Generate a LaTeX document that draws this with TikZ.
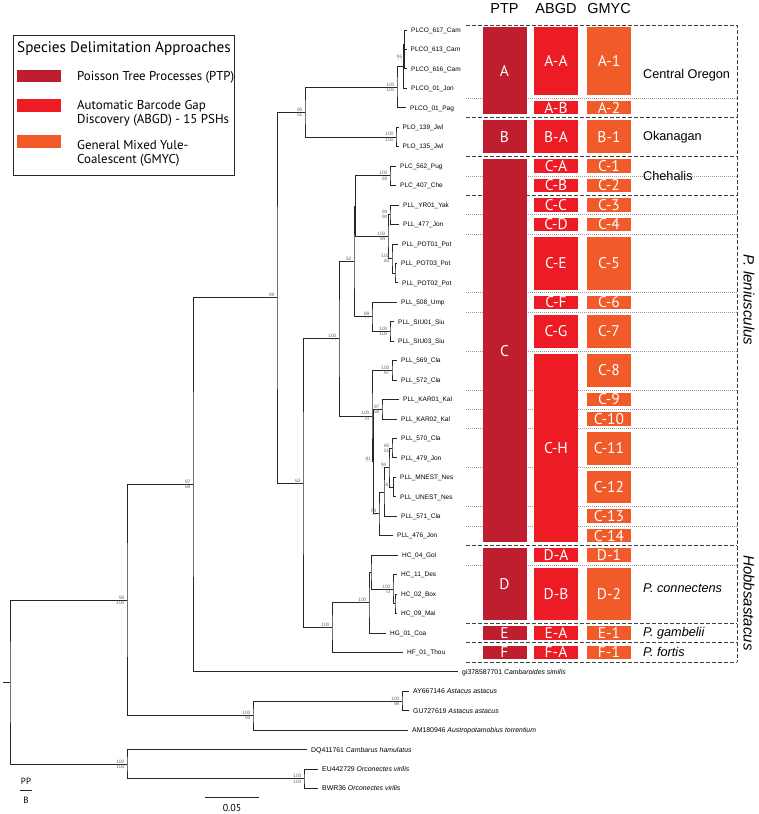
\documentclass[tikz,border=0pt]{standalone}
\usepackage{fontspec}
\setmainfont{Liberation Sans}
\newfontfamily\ptsans{PT Sans}
\usetikzlibrary{calc}
\definecolor{ptpc}{HTML}{BE1E2D}
\definecolor{abgdc}{HTML}{ED1C24}
\definecolor{gmycc}{HTML}{F15A29}
\def\ty#1{{10.5+19.45*(#1)}}
\newcommand{\bsup}[3]{%
  \node[slab,anchor=south east] (#1-t) at ([xshift=-2.2pt,yshift=0.5pt]#1) {#2};
  \node[slab,anchor=north east] (#1-b) at ([xshift=-2.2pt,yshift=-0.5pt]#1) {#3};}
\newcommand{\gb}[6]{%
  \pgfmathsetmacro{\gbt}{max(10.5+19.45*(#3-0.5)+3,27)}%
  \pgfmathsetmacro{\gbb}{10.5+19.45*(#4+0.5)-3}%
  \pgfmathsetmacro{\gbm}{(\gbt+\gbb)/2}%
  \fill[#5] ({#2-22},\gbt) rectangle ({#2+22},\gbb);
  \node[gtext] (#1) at (#2,\gbm) {#6};}
\tikzset{
  br/.style={draw=black!85, line width=0.75pt},
  tip/.style={anchor=base west, inner sep=0, font=\fontsize{6.5}{7}\selectfont},
  otip/.style={anchor=base west, inner sep=0, font=\fontsize{6.9}{7}\selectfont},
  slab/.style={inner sep=0.2pt, text=black!60, font=\fontsize{4.8}{5}\selectfont},
  gtext/.style={inner sep=0, text=white, font=\ptsans\fontsize{15.5}{16}\selectfont},
  dsh/.style={draw=black!75, line width=0.9pt, dash pattern=on 3.5pt off 2.5pt},
  dotl/.style={draw=black!40, line width=0.5pt, dash pattern=on 1pt off 1pt},
  hdr/.style={inner sep=0, font=\fontsize{14.5}{15}\selectfont},
  grp/.style={anchor=west, inner sep=0, font=\fontsize{12.7}{13}\selectfont},
  leg/.style={anchor=base west, inner sep=0, font=\ptsans\fontsize{12.9}{13}\selectfont},
}
\begin{document}
\begin{tikzpicture}[x=1pt,y=-1pt]
\useasboundingbox (0,0) rectangle (758,814);

% ---------- dotted and dashed group lines ----------
\foreach \k in {4.5,8.5,10.5,11.5,14.5,15.5,17.5,19.5,20.5,21.5,23.5,25.5,26.5,28.5}
  \draw[dotl] (466,\ty{\k}) -- (737,\ty{\k});
\foreach \k in {5.5,7.5,9.5,27.5,31.5,32.5,33.5}
  \draw[dsh] (466,\ty{\k}) -- (737,\ty{\k});
\draw[dsh] (466,25) -- (737,25) -- (737,\ty{33.5});

% ---------- boxes ----------
\gb{pA}{504.5}{1}{5}{ptpc}{A}
\gb{pB}{504.5}{6}{7}{ptpc}{B}
\gb{pC}{504.5}{8}{27}{ptpc}{C}
\gb{pD}{504.5}{28}{31}{ptpc}{D}
\gb{pE}{504.5}{32}{32}{ptpc}{E}
\gb{pF}{504.5}{33}{33}{ptpc}{F}

\gb{aAA}{556}{1}{4}{abgdc}{A-A}
\gb{aAB}{556}{5}{5}{abgdc}{A-B}
\gb{aBA}{556}{6}{7}{abgdc}{B-A}
\gb{aCA}{556}{8}{8}{abgdc}{C-A}
\gb{aCB}{556}{9}{9}{abgdc}{C-B}
\gb{aCC}{556}{10}{10}{abgdc}{C-C}
\gb{aCD}{556}{11}{11}{abgdc}{C-D}
\gb{aCE}{556}{12}{14}{abgdc}{C-E}
\gb{aCF}{556}{15}{15}{abgdc}{C-F}
\gb{aCG}{556}{16}{17}{abgdc}{C-G}
\gb{aCH}{556}{18}{27}{abgdc}{C-H}
\gb{aDA}{556}{28}{28}{abgdc}{D-A}
\gb{aDB}{556}{29}{31}{abgdc}{D-B}
\gb{aEA}{556}{32}{32}{abgdc}{E-A}
\gb{aFA}{556}{33}{33}{abgdc}{F-A}

\gb{gA1}{609}{1}{4}{gmycc}{A-1}
\gb{gA2}{609}{5}{5}{gmycc}{A-2}
\gb{gB1}{609}{6}{7}{gmycc}{B-1}
\gb{gC1}{609}{8}{8}{gmycc}{C-1}
\gb{gC2}{609}{9}{9}{gmycc}{C-2}
\gb{gC3}{609}{10}{10}{gmycc}{C-3}
\gb{gC4}{609}{11}{11}{gmycc}{C-4}
\gb{gC5}{609}{12}{14}{gmycc}{C-5}
\gb{gC6}{609}{15}{15}{gmycc}{C-6}
\gb{gC7}{609}{16}{17}{gmycc}{C-7}
\gb{gC8}{609}{18}{19}{gmycc}{C-8}
\gb{gC9}{609}{20}{20}{gmycc}{C-9}
\gb{gC10}{609}{21}{21}{gmycc}{C-10}
\gb{gC11}{609}{22}{23}{gmycc}{C-11}
\gb{gC12}{609}{24}{25}{gmycc}{C-12}
\gb{gC13}{609}{26}{26}{gmycc}{C-13}
\gb{gC14}{609}{27}{27}{gmycc}{C-14}
\gb{gD1}{609}{28}{28}{gmycc}{D-1}
\gb{gD2}{609}{29}{31}{gmycc}{D-2}
\gb{gE1}{609}{32}{32}{gmycc}{E-1}
\gb{gF1}{609}{33}{33}{gmycc}{F-1}

% ---------- headers and group names ----------
\node[hdr] (hPTP) at (504.5,9) {PTP};
\node[hdr] (hABGD) at (556,9) {ABGD};
\node[hdr] (hGMYC) at (609,9) {GMYC};
\node[grp] (gCO) at (643,75) {Central Oregon};
\node[grp] (gOK) at (643,\ty{6.5}) {Okanagan};
\node[grp] (gCH) at (643,\ty{8.5}) {Chehalis};
\node[grp,font=\itshape\fontsize{12.7}{13}\selectfont] (gPC) at (643,588) {P. connectens};
\node[grp,font=\itshape\fontsize{12.7}{13}\selectfont] (gPG) at (643,\ty{32}) {P. gambelii};
\node[grp,font=\itshape\fontsize{12.7}{13}\selectfont] (gPF) at (643,\ty{33}) {P. fortis};
\node[inner sep=0,rotate=-90,font=\itshape\fontsize{15}{15}\selectfont] (gPL) at (749,300) {P. leniusculus};
\node[inner sep=0,rotate=-90,font=\itshape\fontsize{15}{15}\selectfont] (gHO) at (749,603) {Hobbsastacus};

% ---------- tips ----------
\foreach \i/\ex/\lab in {
 1/407/PLCO\_617\_Cam, 2/406.5/PLCO\_613\_Cam, 3/407/PLCO\_616\_Cam, 4/407/PLCO\_01\_Jon,
 5/406/PLCO\_01\_Pag, 6/398.5/PLO\_139\_Jwl, 7/398.5/PLO\_135\_Jwl, 8/396/PLC\_562\_Pug,
 9/396/PLC\_407\_Che, 10/399/PLL\_YR01\_Yak, 11/399/PLL\_477\_Jon, 12/398/PLL\_POT01\_Pot,
 13/397/PLL\_POT03\_Pot, 14/398/PLL\_POT02\_Pot, 15/397/PLL\_508\_Ump, 16/394/PLL\_SIU01\_Siu,
 17/394/PLL\_SIU03\_Siu, 18/397/PLL\_569\_Cla, 19/397/PLL\_572\_Cla, 20/399/PLL\_KAR01\_Kal,
 21/397/PLL\_KAR02\_Kal, 22/397/PLL\_570\_Cla, 23/397/PLL\_479\_Jon, 24/396/PLL\_MNEST\_Nes,
 25/396/PLL\_UNEST\_Nes, 26/397/PLL\_571\_Cla, 27/393/PLL\_476\_Jon, 28/398/HC\_04\_Gol,
 29/397/HC\_11\_Des, 30/397/HC\_02\_Box, 31/397/HC\_09\_Mai, 32/386/HG\_01\_Coa,
 33/403/HF\_01\_Thou}{
  \coordinate (e\i) at (\ex,\ty{\i});
  \node[tip] (t\i) at ([xshift=4pt,yshift=-2.3pt]e\i) {\lab};
}
\foreach \i/\ex/\lab in {
 34/458/gi378587701 \textit{Cambaroides similis},
 35/409/AY667146 \textit{Astacus astacus}, 36/409/GU727619 \textit{Astacus astacus},
 37/408/AM180946 \textit{Austropotamobius torrentium}, 38/307/DQ411761 \textit{Cambarus hamulatus},
 39/318/EU442729 \textit{Orconectes virilis}, 40/318/BWR36 \textit{Orconectes virilis}}{
  \coordinate (e\i) at (\ex,\ty{\i});
  \node[otip] (t\i) at ([xshift=4pt,yshift=-2.4pt]e\i) {\lab};
}

% ---------- internal nodes ----------
\coordinate (rstub) at (3,\ty{34.532});
\coordinate (root) at (10,\ty{34.532});
\coordinate (N95) at (127,\ty{30.3145});
\coordinate (Ncamb) at (127,\ty{38.75});
\coordinate (Orco) at (304,\ty{39.5});
\coordinate (Nast) at (253,\ty{36.25});
\coordinate (AYGU) at (402,\ty{35.5});
\coordinate (N97) at (193,\ty{24.3789});
\coordinate (N99) at (277,\ty{14.7578});
\coordinate (N90) at (305,\ty{5.21875});
\coordinate (X) at (397,\ty{3.9375});
\coordinate (Y) at (403.5,\ty{2.875});
\coordinate (Z) at (404.2,\ty{1.75});
\coordinate (W) at (404.8,\ty{2.5});
\coordinate (PLO) at (396,\ty{6.5});
\coordinate (N63) at (303,\ty{24.296875});
\coordinate (N100a) at (339,\ty{16.875});
\coordinate (N52) at (354,\ty{12.90625});
\coordinate (Q) at (355.5,\ty{10.0625});
\coordinate (PLC) at (390,\ty{8.5});
\coordinate (YP) at (388,\ty{11.625});
\coordinate (YR) at (390,\ty{10.5});
\coordinate (POT) at (392,\ty{12.75});
\coordinate (POT32) at (395,\ty{13.5});
\coordinate (R) at (372,\ty{15.75});
\coordinate (SIU) at (390,\ty{16.5});
\coordinate (N100b) at (372,\ty{20.84375});
\coordinate (C569) at (392,\ty{18.5});
\coordinate (N81) at (373.5,\ty{23.1875});
\coordinate (KAR) at (382,\ty{20.5});
\coordinate (N54) at (379,\ty{25.875});
\coordinate (Nx) at (384,\ty{24.75});
\coordinate (N94) at (389,\ty{23.5});
\coordinate (N85) at (392,\ty{22.5});
\coordinate (N61) at (393.5,\ty{24.5});
\coordinate (Hobb) at (332,\ty{31.71875});
\coordinate (Ncg) at (369,\ty{30.4375});
\coordinate (HC) at (371,\ty{28.875});
\coordinate (HCsub) at (393,\ty{29.75});
\coordinate (HC29) at (395,\ty{30.5});

% ---------- branches ----------
\draw[br] (rstub) -- (root);
\foreach \p/\a/\b in {root/N95/Ncamb, N95/N97/Nast, Ncamb/e38/Orco, Orco/e39/e40,
  Nast/AYGU/e37, AYGU/e35/e36, N97/N99/e34, N99/N90/N63, N90/X/PLO, X/Y/e5, Y/Z/e4,
  Z/e1/W, W/e2/e3, PLO/e6/e7, N63/N100a/Hobb, N100a/N52/N100b, N52/Q/R, Q/PLC/YP,
  PLC/e8/e9, YP/YR/POT, YR/e10/e11, POT/e12/POT32, POT32/e13/e14, R/e15/SIU, SIU/e16/e17,
  N100b/C569/N81, C569/e18/e19, N81/KAR/N54, KAR/e20/e21, N54/Nx/e27, Nx/N94/e26,
  N94/N85/N61, N85/e22/e23, N61/e24/e25, Hobb/Ncg/e33, Ncg/HC/e32, HC/e28/HCsub,
  HCsub/e29/HC29, HC29/e30/e31}
  \draw[br] (\a) -| (\p) |- (\b);

% ---------- support values ----------
\bsup{X}{100}{100}
\bsup{W}{95}{- -}
\bsup{PLO}{100}{100}
\bsup{N90}{90}{51}
\bsup{N99}{99}{- -}
\bsup{PLC}{100}{93}
\bsup{YR}{94}{90}
\bsup{YP}{100}{94}
\bsup{POT}{100}{60}
\bsup{N52}{52}{- -}
\bsup{N100a}{100}{- -}
\bsup{R}{89}{- -}
\bsup{SIU}{100}{100}
\bsup{C569}{100}{97}
\bsup{KAR}{97}{58}
\bsup{N100b}{100}{70}
\bsup{N81}{81}{- -}
\bsup{N94}{94}{- -}
\bsup{N85}{85}{51}
\node[slab,anchor=south east] (N61-t) at ([xshift=-2.2pt,yshift=0.5pt]N61) {61};
\bsup{N54}{54}{- -}
\bsup{N63}{63}{- -}
\bsup{N97}{97}{69}
\bsup{N95}{95}{100}
\bsup{Hobb}{100}{- -}
\bsup{Ncg}{100}{- -}
\bsup{HCsub}{100}{73}
\bsup{Nast}{100}{93}
\bsup{AYGU}{100}{98}
\bsup{Ncamb}{100}{100}
\bsup{Orco}{100}{100}

% ---------- legend ----------
\node[draw=black!85, line width=0.9pt, minimum width=221pt, minimum height=140pt, inner sep=0] (legbox) at (123.5,105) {};
\node[anchor=base west, inner sep=0, font=\ptsans\fontsize{15.2}{16}\selectfont] (legt) at (17,52.5) {Species Delimitation Approaches};
\fill[ptpc] (17,69.5) rectangle (61,82);
\fill[abgdc] (17,98.7) rectangle (61,111.7);
\fill[gmycc] (17,135) rectangle (61,148.3);
\node[leg] (l1) at (77,80) {Poisson Tree Processes (PTP)};
\node[leg] (l2a) at (77,109.3) {Automatic Barcode Gap};
\node[leg] (l2b) at (77,123.8) {Discovery (ABGD) - 15 PSHs};
\node[leg] (l3a) at (77,149) {General Mixed Yule-};
\node[leg] (l3b) at (77,163.5) {Coalescent (GMYC)};

% ---------- PP/B key and scale bar ----------
\node[inner sep=0, font=\ptsans\fontsize{9}{9}\selectfont] (pp) at (26,781) {PP};
\coordinate (kb1) at (20,790);
\coordinate (kb2) at (32,790);
\draw[br] (kb1) -- (kb2);
\node[inner sep=0, font=\ptsans\fontsize{9}{9}\selectfont] (bb) at (26,800) {B};
\coordinate (sb1) at (205,797);
\coordinate (sb2) at (259,797);
\draw[br] (sb1) -- (sb2);
\node[inner sep=0, font=\ptsans\fontsize{10}{10}\selectfont] (sbl) at (232,808) {0.05};
\end{tikzpicture}
\end{document}
